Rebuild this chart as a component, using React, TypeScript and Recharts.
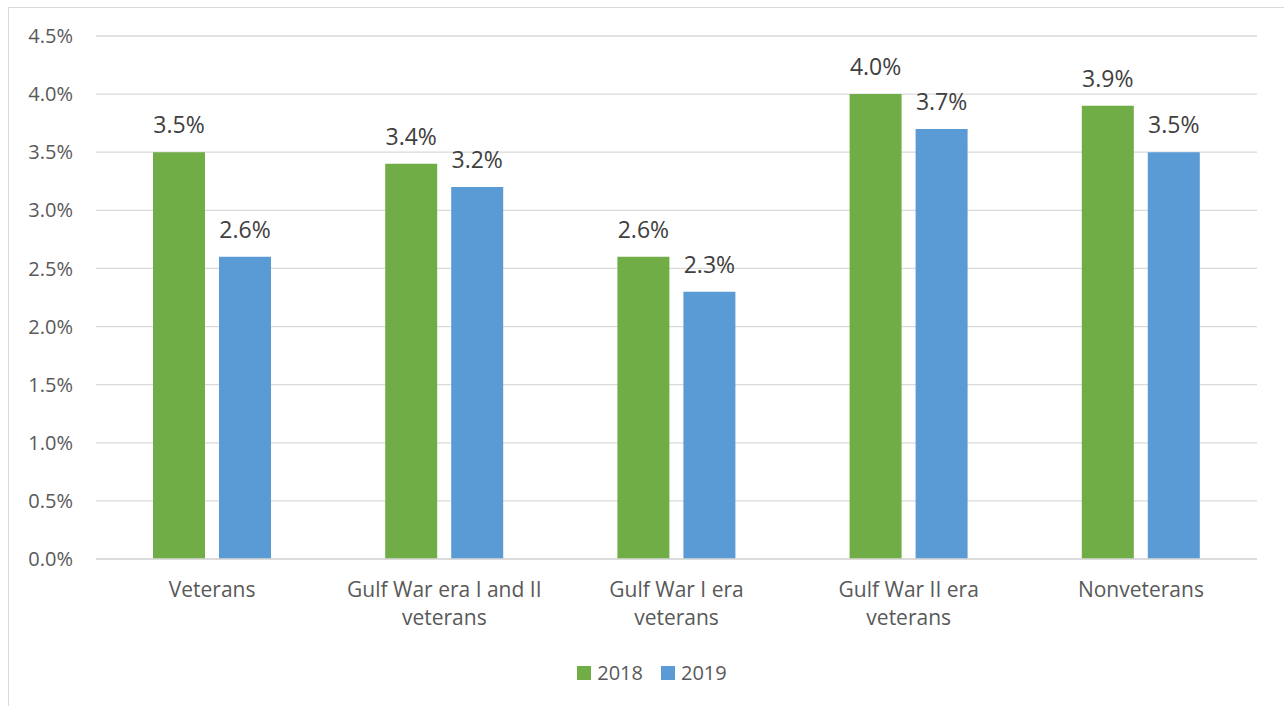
import React from 'react';
import { BarChart, Bar, XAxis, YAxis, CartesianGrid, Legend, LabelList } from 'recharts';

const categories = [
  'Veterans',
  'Gulf War era I and II veterans',
  'Gulf War I era veterans',
  'Gulf War II era veterans',
  'Nonveterans',
];
// how each category name is broken over lines under the axis
const categoryLines = [
  ['Veterans'],
  ['Gulf War era I and II', 'veterans'],
  ['Gulf War I era', 'veterans'],
  ['Gulf War II era', 'veterans'],
  ['Nonveterans'],
];
const values2018 = [3.5, 3.4, 2.6, 4.0, 3.9];
const values2019 = [2.6, 3.2, 2.3, 3.7, 3.5];
const yTicks = [0, 0.5, 1.0, 1.5, 2.0, 2.5, 3.0, 3.5, 4.0, 4.5];

const GREEN = '#70AD47';
const BLUE = '#5B9BD5';
const GRID = '#D9D9D9';
const FONT = "'Open Sans', sans-serif";

const chartData = categories.map((name, i) => ({
  name,
  y2018: values2018[i],
  y2019: values2019[i],
}));

const pct = (v: number) => `${Number(v).toFixed(1)}%`;

const CategoryTick = (props: any) => {
  const { x, y, payload } = props;
  const idx = categories.indexOf(payload.value);
  const lines = idx >= 0 ? categoryLines[idx] : [String(payload.value)];
  return (
    <text x={x} y={y} textAnchor="middle" fill="#595959" fontSize={21} fontFamily={FONT}>
      {lines.map((line, i) => (
        <tspan key={i} x={x} dy={i === 0 ? '0.71em' : 28}>
          {line}
        </tspan>
      ))}
    </text>
  );
};

const LegendBox = () => (
  <div
    style={{
      display: 'flex',
      justifyContent: 'center',
      alignItems: 'center',
      height: 20,
      paddingLeft: 20,
      fontFamily: FONT,
      fontSize: 20,
      color: '#595959',
    }}
  >
    {[
      { label: '2018', color: GREEN },
      { label: '2019', color: BLUE },
    ].map((item, i) => (
      <div key={item.label} style={{ display: 'flex', alignItems: 'center', marginLeft: i ? 18 : 0 }}>
        <span style={{ width: 14, height: 14, background: item.color, marginRight: 6, display: 'inline-block' }} />
        <span style={{ lineHeight: '20px' }}>{item.label}</span>
      </div>
    ))}
  </div>
);

export default function App() {
  return (
    <div style={{ fontFamily: FONT }}>
      <div
        style={{
          position: 'absolute',
          left: 8,
          top: 7,
          width: 1276,
          height: 699,
          borderLeft: `1px solid ${GRID}`,
          borderTop: `1px solid ${GRID}`,
          boxSizing: 'border-box',
        }}
      />
      <div style={{ position: 'absolute', left: 0, top: 0, width: 1284, height: 706 }}>
        <BarChart
          width={1284}
          height={706}
          data={chartData}
          margin={{ top: 36, right: 27, bottom: 0, left: 0 }}
          barSize={52}
          barGap={14}
        >
          <CartesianGrid vertical={false} stroke={GRID} strokeWidth={1.3} />
          <XAxis
            dataKey="name"
            height={127}
            tickLine={false}
            axisLine={{ stroke: GRID, strokeWidth: 1.3 }}
            tickSize={0}
            tickMargin={23}
            interval={0}
            tick={<CategoryTick />}
          />
          <YAxis
            width={96}
            domain={[0, 4.5]}
            ticks={yTicks}
            tickFormatter={pct}
            axisLine={false}
            tickLine={false}
            tickSize={0}
            tickMargin={23}
            tick={{ fill: '#595959', fontSize: 20, fontFamily: FONT }}
          />
          <Legend
            verticalAlign="bottom"
            content={<LegendBox />}
            wrapperStyle={{ top: 663, bottom: 'auto', left: 0, width: 1284, height: 20 }}
          />
          <Bar dataKey="y2018" name="2018" fill={GREEN} isAnimationActive={false}>
            <LabelList
              dataKey="y2018"
              position="top"
              offset={19}
              formatter={pct}
              fill="#404040"
              fontSize={23}
              fontFamily={FONT}
            />
          </Bar>
          <Bar dataKey="y2019" name="2019" fill={BLUE} isAnimationActive={false}>
            <LabelList
              dataKey="y2019"
              position="top"
              offset={19}
              formatter={pct}
              fill="#404040"
              fontSize={23}
              fontFamily={FONT}
            />
          </Bar>
        </BarChart>
      </div>
    </div>
  );
}
